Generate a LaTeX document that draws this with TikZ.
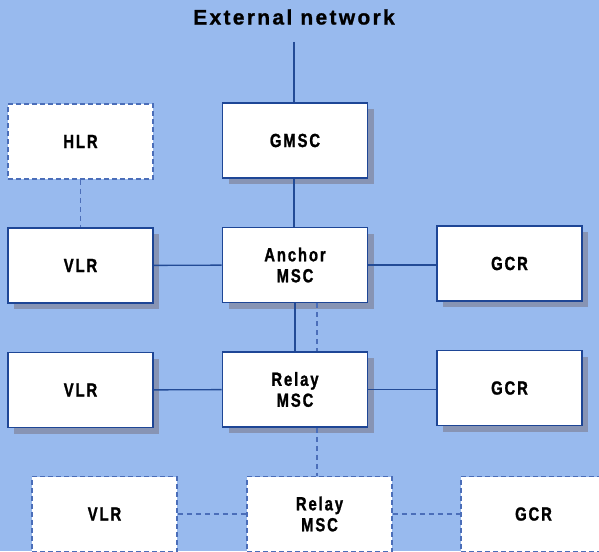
\documentclass[tikz,border=0pt]{standalone}
\usepackage{fontspec}
\setmainfont{Liberation Sans}
\newfontfamily\lblfont{Liberation Sans Bold}[FakeStretch=0.78,LetterSpace=10,FakeBold=1.2]
\newfontfamily\ttlfont{Liberation Sans Bold}[LetterSpace=11,FakeBold=1]
\usetikzlibrary{shadows}
\definecolor{bgblue}{RGB}{152,186,238}
\definecolor{boxblue}{RGB}{30,70,150}
\definecolor{lineblue}{RGB}{35,75,150}
\definecolor{dashblue}{RGB}{75,110,185}
\definecolor{shgrey}{RGB}{135,148,180}
\tikzset{
  box/.style={draw=boxblue, line width=1.8pt, fill=white, minimum width=145pt, minimum height=75pt,
    inner sep=0pt, align=center, font=\lblfont\fontsize{19}{21}\selectfont,
    general shadow={fill=shgrey, shadow xshift=6pt, shadow yshift=-6pt}},
  dbox/.style={draw=dashblue, line width=1.6pt, dash pattern=on 5pt off 3pt, fill=white,
    minimum width=145pt, minimum height=75pt, inner sep=0pt, align=center,
    font=\lblfont\fontsize{19}{21}\selectfont},
  link/.style={draw=lineblue, line width=1.4pt},
  dlink/.style={draw=dashblue, line width=1.4pt, dash pattern=on 5pt off 4pt}
}
\begin{document}
\begin{tikzpicture}[x=1pt,y=-1pt]
\useasboundingbox (0,0) rectangle (599,551);
\clip (0,0) rectangle (599,551);
\fill[bgblue] (0,0) rectangle (599,551);
\node[font=\ttlfont\fontsize{21}{24}\selectfont] (ext) at (294,17) {External network};
\coordinate (extend) at (294,42);
% nodes
\node[dbox] (hlr) at (80.5,141.5) {HLR};
\node[box] (gmsc) at (295,140.5) {GMSC};
\node[box] (vlr1) at (80.5,265.5) {VLR};
\node[box] (anchor) at (295,265) {Anchor\\MSC};
\node[box] (gcr1) at (509.5,263.5) {GCR};
\node[box] (vlr2) at (80.5,390) {VLR};
\node[box] (relay) at (295,389.5) {Relay\\MSC};
\node[box] (gcr2) at (509.5,388) {GCR};
\node[dbox] (vlr3) at (104.5,514) {VLR};
\node[dbox] (relay3) at (319.5,514) {Relay\\MSC};
\node[dbox] (gcr3) at (533.5,514) {GCR};
% connectors
\draw[link] (extend) -- (extend |- gmsc.north);
\draw[link] (gmsc.south -| extend) -- (anchor.north -| extend);
\draw[dlink] (hlr) -- (vlr1);
\draw[link] (vlr1) -- (anchor);
\draw[link] (anchor) -- (gcr1.west |- anchor);
\draw[link] (anchor) -- (relay);
\draw[dlink] ([xshift=22pt]anchor.south) -- ([xshift=22pt]relay.north);
\draw[link] (vlr2) -- (relay);
\draw[link] (relay) -- (gcr2.west |- relay);
\draw[dlink] ([xshift=22pt]relay.south) -- ([xshift=-2.5pt]relay3.north);
\draw[dlink] (vlr3) -- (relay3);
\draw[dlink] (relay3) -- (gcr3);
\end{tikzpicture}
\end{document}
